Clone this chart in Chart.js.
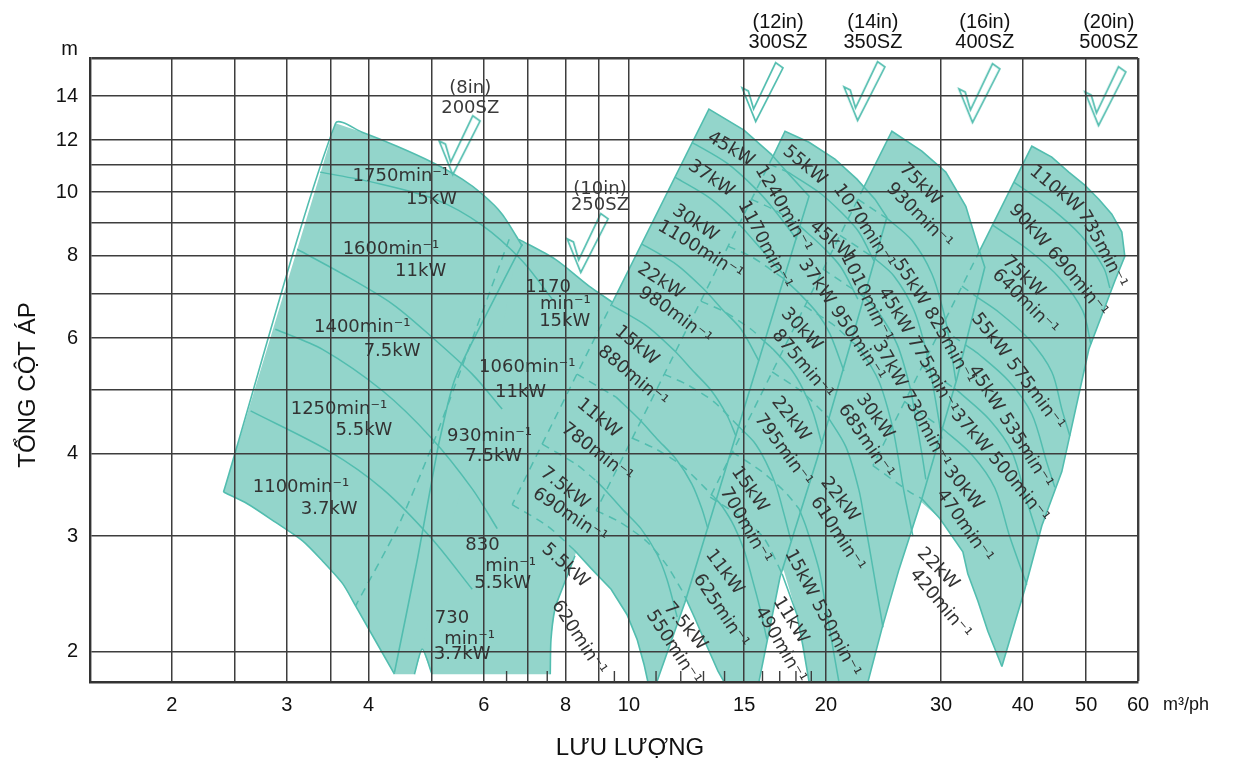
<!DOCTYPE html>
<html lang="vi">
<head>
<meta charset="utf-8">
<title>Biểu đồ chọn bơm SZ</title>
<script src="https://cdn.jsdelivr.net/npm/chart.js@4.4.1/dist/chart.umd.min.js"></script>
<style>
  html, body { margin: 0; padding: 0; background: #ffffff; }
  #box { width: 1234px; height: 764px; }
</style>
</head>
<body>
<div id="box"><canvas id="pumpChart" width="1234" height="764"></canvas></div>
<script>
// ---- axes (flow m3/ph, total head m) ----
const flowGrid   = [2, 2.5, 3, 3.5, 4, 5, 6, 7, 8, 9, 10, 15, 20, 30, 40, 50, 60];
const flowLabels = [2, 3, 4, 6, 8, 10, 15, 20, 30, 40, 50, 60];
const flowMinor  = [6.5, 7.5, 9.5, 11, 12, 13, 14, 16, 17, 18, 19];
const headGrid   = [2, 3, 4, 5, 6, 7, 8, 9, 10, 11, 12, 14, 16];
const headLabels = [2, 3, 4, 6, 8, 10, 12, 14];

// ---- operating areas [flow, head] ----
const sz200Area = [[3.56,12.73],[3.91,12.34],[4.42,11.75],[5.0,11.11],[5.56,10.47],[5.96,9.94],[6.40,9.26],[6.87,8.28],[7.50,7.12],[7.90,6.19],[7.37,4.52],[6.40,3.19],[5.37,2.41],[4.83,2.02],[4.70,1.85],[4.38,1.85],[3.82,2.35],[3.65,2.54],[3.40,2.75],[3.17,2.95],[2.88,3.15],[2.61,3.36],[2.40,3.50]];
const sz250Area = [[6.79,8.48],[7.71,7.91],[8.69,7.20],[9.42,6.81],[10.11,6.19],[9.59,4.85],[8.94,3.66],[8.27,2.80],[7.90,2.49],[7.71,2.33],[7.60,2.09],[7.58,1.85],[5.0,1.85],[4.83,2.02],[5.18,2.77],[5.76,4.07],[6.40,6.19]];
const sz300Area = [[13.25,13.38],[14.99,12.43],[16.49,11.43],[17.56,10.65],[18.85,9.86],[15.15,4.85],[12.18,2.38],[11.03,1.80],[10.69,1.80],[10.55,1.91],[10.29,2.09],[9.93,2.28],[9.39,2.49],[8.78,2.67],[8.24,2.86],[7.50,3.11],[6.63,3.35]];
const sz350Area = [[17.32,12.38],[18.85,11.91],[20.65,11.23],[22.31,10.47],[23.77,9.76],[24.79,9.16],[21.92,5.98],[19.39,3.93],[17.02,2.60],[15.80,1.80],[13.98,1.80],[13.68,1.87],[13.16,2.04],[12.61,2.25],[12.05,2.48],[11.39,2.72],[10.62,2.95],[9.69,3.15],[8.91,3.28]];
const sz400Area = [[25.23,12.38],[28.04,11.55],[30.50,10.73],[32.73,9.52],[34.27,8.19],[34.99,7.69],[31.71,5.20],[28.04,3.42],[25.87,2.67],[24.36,2.17],[23.19,1.80],[18.85,1.80],[18.45,2.04],[18.06,2.28],[17.26,2.65],[16.08,2.98],[14.79,3.21],[13.31,3.44]];
const sz500Area = [[41.29,11.75],[44.30,11.31],[47.03,10.73],[49.75,10.25],[52.27,9.76],[54.72,9.26],[56.68,8.70],[57.28,7.99],[55.30,7.33],[50.47,5.77],[45.89,3.76],[42.77,3.11],[40.28,2.49],[37.16,1.90],[35.37,2.15],[34.15,2.39],[32.96,2.63],[32.39,2.84],[29.87,3.19],[26.88,3.50],[23.60,3.84]];

// ---- visible outlines (solid) ----
const sz200Rim = [
  [[2.40,3.50],[3.56,12.73],[3.91,12.34],[4.42,11.75],[5.0,11.11],[5.56,10.47],[5.96,9.94],[6.40,9.26],[6.87,8.28]],
  [[2.40,3.50],[2.61,3.36],[2.88,3.15],[3.17,2.95],[3.40,2.75],[3.65,2.54],[3.82,2.35],[4.38,1.85]],
  [[4.70,1.85],[4.83,2.02],[5.0,1.85]]
];
const sz250Rim = [
  [[6.79,8.48],[7.71,7.91],[8.69,7.20],[9.42,6.81]],
  [[8.27,2.80],[7.90,2.49],[7.71,2.33],[7.60,2.09],[7.58,1.85]],
  [[6.87,8.34],[6.11,6.64],[5.42,5.20],[5.14,4.22],[5.0,3.66],[4.75,2.77],[4.38,1.86]]
];
const sz300Rim = [
  [[9.49,6.88],[13.25,13.38],[14.99,12.43],[16.49,11.43],[17.56,10.65],[18.85,9.86],[15.15,4.85],[12.18,2.38],[11.03,1.80]],
  [[8.24,2.86],[8.78,2.67],[9.39,2.49],[9.93,2.28],[10.29,2.09],[10.55,1.91],[10.69,1.80]]
];
const sz350Rim = [
  [[16.61,11.35],[17.32,12.38],[18.85,11.91],[20.65,11.23],[22.31,10.47],[23.77,9.76],[24.79,9.16],[21.92,5.98],[19.39,3.93],[17.02,2.60],[15.80,1.80]],
  [[12.22,2.41],[12.61,2.25],[13.16,2.04],[13.68,1.87],[13.98,1.80]]
];
const sz400Rim = [
  [[22.86,10.18],[25.23,12.38],[28.04,11.55],[30.50,10.73],[32.73,9.52],[34.27,8.19],[34.99,7.69],[31.71,5.20],[28.04,3.42],[25.87,2.67],[24.36,2.17],[23.19,1.80]],
  [[17.14,2.63],[18.06,2.28],[18.45,2.04],[18.85,1.80]]
];
const sz500Rim = [
  [[34.39,8.16],[41.29,11.75],[44.30,11.31],[47.03,10.73],[49.75,10.25],[52.27,9.76],[54.72,9.26],[56.68,8.70],[57.28,7.99],[55.30,7.33],[50.47,5.77],[45.89,3.76],[42.77,3.11],[40.28,2.49],[37.16,1.90]],
  [[28.04,3.42],[29.87,3.19],[32.39,2.84],[32.96,2.63],[34.15,2.39],[35.37,2.15],[37.16,1.90]]
];

// ---- lines lying under a neighbouring area (dashed) ----
const sz200Hidden = [
  [[6.56,8.48],[5.76,5.98],[5.0,4.11],[4.42,3.08],[3.82,2.35]]
];
const sz300Hidden = [
  [[9.49,6.88],[6.63,3.35]],
  [[6.63,3.35],[7.50,3.11],[8.24,2.86]],
  [[8.33,5.29],[9.42,4.92],[9.56,4.88]],
  [[7.37,4.14],[8.33,3.85],[8.91,3.64]]
];
const sz350Hidden = [
  [[16.61,11.35],[8.91,3.28]],
  [[8.91,3.28],[9.69,3.15],[10.62,2.95],[11.39,2.72],[12.05,2.48],[12.22,2.41]],
  [[16.38,11.04],[17.50,10.73]],
  [[15.37,9.76],[16.72,9.39],[18.26,8.88]],
  [[14.17,8.28],[15.42,7.97],[17.20,7.40]],
  [[12.88,6.83],[14.03,6.57],[15.37,6.19],[16.08,5.94]],
  [[11.31,5.29],[12.31,5.09],[13.49,4.80],[14.73,4.40]],
  [[10.11,4.23],[10.99,4.07],[12.05,3.84],[13.49,3.44]]
];
const sz400Hidden = [
  [[22.86,10.18],[13.31,3.44]],
  [[13.31,3.44],[14.79,3.21],[16.08,2.98],[17.14,2.63]],
  [[22.38,9.76],[24.36,9.23]],
  [[21.01,8.60],[23.60,7.97]],
  [[19.80,7.64],[21.99,7.12],[22.86,6.93]],
  [[18.58,6.71],[20.65,6.26],[21.92,5.92]],
  [[16.55,5.33],[18.39,4.97],[20.15,4.55]],
  [[14.37,4.03],[15.97,3.76],[17.38,3.49],[18.20,3.30]]
];
const sz500Hidden = [
  [[34.39,8.16],[23.60,3.84]],
  [[23.60,3.84],[26.88,3.50],[28.04,3.42]],
  [[32.28,7.20],[34.02,6.93]],
  [[30.08,6.21],[32.85,5.84]],
  [[28.04,5.44],[31.38,5.04]],
  [[26.41,4.80],[30.08,4.38]]
];

// ---- H-Q curves inside each area (visible parts) ----
const sz200Speeds = [
  [[3.37,10.73],[4.05,10.36],[5.05,9.76],[5.96,8.91],[6.87,7.86],[7.63,6.88]],
  [[3.11,8.19],[3.65,7.51],[4.35,6.76],[5.0,6.02],[5.76,5.29],[6.40,4.68]],
  [[2.88,6.19],[3.40,5.77],[4.20,4.99],[5.0,4.22],[5.76,3.54],[6.29,3.08]],
  [[2.64,4.65],[3.48,4.04],[4.20,3.54],[5.0,2.97],[5.76,2.49]]
];
const sz300Speeds = [
  [[12.48,11.91],[14.12,11.07],[15.53,10.18],[16.55,9.49],[18.06,8.48]],
  [[11.76,10.54],[13.31,9.79],[14.62,9.01],[15.58,8.40],[17.26,7.48]],
  [[10.47,8.34],[11.85,7.75],[13.02,7.12],[13.88,6.64],[14.84,6.19],[15.80,5.54]],
  [[9.42,6.73],[10.65,6.26],[11.72,5.75],[12.48,5.37],[13.35,5.00],[14.12,4.58],[14.57,4.26]],
  [[9.56,4.88],[10.36,4.52],[11.03,4.22],[11.80,3.93],[12.48,3.60],[12.93,3.30],[13.20,3.08]],
  [[8.91,3.64],[9.16,3.54],[9.76,3.30],[10.43,3.08],[11.03,2.82],[11.43,2.58],[11.85,2.26]]
];
const sz350Speeds = [
  [[17.50,10.73],[19.52,10.0],[21.09,9.33],[22.46,8.70],[23.69,7.86]],
  [[18.26,8.88],[19.80,8.25],[21.09,7.69],[22.38,6.88]],
  [[17.20,7.40],[18.26,7.00],[19.45,6.53],[20.29,6.09],[21.31,5.35]],
  [[16.08,5.94],[16.61,5.77],[17.69,5.38],[18.45,5.02],[19.12,4.62],[19.73,4.14]],
  [[14.73,4.40],[15.53,4.17],[16.19,3.89],[16.78,3.58],[17.26,3.24],[17.69,2.95]],
  [[13.49,3.44],[13.88,3.33],[14.47,3.11],[14.99,2.86],[15.42,2.59],[15.86,2.33],[16.25,2.09]]
];
const sz400Speeds = [
  [[24.36,9.23],[24.88,9.10],[27.07,8.45],[29.05,7.51],[30.40,6.46],[31.05,5.77],[31.60,5.16]],
  [[23.60,7.97],[25.41,7.46],[27.26,6.62],[28.53,5.69],[29.15,5.09],[29.77,4.50],[30.08,4.22]],
  [[22.86,6.93],[23.93,6.62],[25.68,5.88],[26.88,5.06],[27.45,4.52],[28.04,4.00],[28.43,3.66]],
  [[21.92,5.92],[22.46,5.81],[24.10,5.16],[25.23,4.44],[25.78,3.97],[26.32,3.51],[27.17,3.00]],
  [[20.15,4.55],[21.46,4.10],[22.46,3.53],[22.94,3.15],[23.44,2.79],[23.93,2.47],[24.45,2.18]],
  [[18.20,3.30],[18.65,3.10],[19.52,2.67],[19.94,2.38],[20.36,2.11],[20.94,1.80]]
];
const sz500Speeds = [
  [[38.76,10.36],[44.14,9.46],[49.06,8.60],[53.19,7.67],[54.34,7.15]],
  [[35.99,8.91],[41.0,8.14],[45.57,7.40],[49.40,6.60],[50.82,5.88]],
  [[34.02,6.93],[36.77,6.57],[40.86,5.98],[44.30,5.33],[45.89,4.68],[47.20,4.26]],
  [[32.85,5.84],[34.27,5.67],[38.09,5.16],[41.29,4.60],[43.53,3.88],[44.77,3.56]],
  [[31.38,5.04],[31.94,4.97],[35.50,4.52],[38.49,4.03],[40.57,3.39],[42.32,2.97]],
  [[30.08,4.38],[33.43,3.99],[36.25,3.55],[38.22,2.99],[40.57,2.53]]
];

// ---- model markers and names ----
const modelMarks = [[5.50,11.79],[8.63,8.37],[15.97,14.20],[22.86,14.25],[34.26,14.15],[53.38,14.0]];
const innerNames = [['(8in)', '200SZ', 5.72, 14.39, 13.42], ['(10in)', '250SZ', 9.03, 10.11, 9.56]];
const outerNames = [['(12in)', '300SZ', 16.90], ['(14in)', '350SZ', 23.60], ['(16in)', '400SZ', 34.99], ['(20in)', '500SZ', 54.13]];

// ---- curve captions [text, flow, head] ----
const sz200Text = [
  ['1750min⁻¹', 3.78, 10.58], ['15kW', 4.56, 9.76],
  ['1600min⁻¹', 3.65, 8.19], ['11kW', 4.39, 7.59],
  ['1400min⁻¹', 3.30, 6.24], ['7.5kW', 3.93, 5.73],
  ['1250min⁻¹', 3.04, 4.68], ['5.5kW', 3.56, 4.34],
  ['1100min⁻¹', 2.66, 3.56], ['3.7kW', 3.15, 3.30]
];
const sz250Text = [
  ['1170', 6.94, 7.17], ['min⁻¹', 7.31, 6.76], ['15kW', 7.29, 6.37],
  ['1060min⁻¹', 5.90, 5.42], ['11kW', 6.24, 4.97],
  ['930min⁻¹', 5.27, 4.26], ['7.5kW', 5.62, 3.97],
  ['830', 5.62, 2.90], ['min⁻¹', 6.03, 2.70], ['5.5kW', 5.80, 2.54],
  ['730', 5.05, 2.25], ['min⁻¹', 5.22, 2.09], ['3.7kW', 5.03, 1.98]
];
const sz300Text = [
  ['45kW', 13.25, 12.17], ['1240min⁻¹', 15.80, 10.92],
  ['37kW', 12.39, 11.02], ['1170min⁻¹', 14.89, 9.66],
  ['30kW', 11.72, 9.43], ['1100min⁻¹', 11.12, 8.91],
  ['22kW', 10.36, 7.69], ['980min⁻¹', 10.40, 7.07],
  ['15kW', 9.59, 6.19], ['880min⁻¹', 9.03, 5.77],
  ['11kW', 8.39, 4.80], ['780min⁻¹', 7.94, 4.40],
  ['7.5kW', 7.37, 3.77], ['690min⁻¹', 7.17, 3.50],
  ['5.5kW', 7.42, 2.89], ['620min⁻¹', 7.72, 2.38]
];
const sz350Text = [
  ['55kW', 17.32, 11.63], ['1070min⁻¹', 20.79, 10.22],
  ['45kW', 19.05, 8.94], ['1010min⁻¹', 21.38, 8.05],
  ['37kW 950min⁻¹', 18.39, 7.86],
  ['30kW', 17.26, 6.60], ['875min⁻¹', 16.72, 6.13],
  ['22kW', 16.72, 4.85], ['795min⁻¹', 15.75, 4.57],
  ['15kW', 14.52, 3.80], ['700min⁻¹', 13.98, 3.54],
  ['11kW', 13.25, 2.84], ['625min⁻¹', 12.70, 2.61],
  ['7.5kW', 11.43, 2.36], ['550min⁻¹', 10.77, 2.30]
];
const sz400Text = [
  ['75kW', 26.14, 10.95], ['930min⁻¹', 24.97, 10.22],
  ['55kW 825min⁻¹', 25.68, 7.86], ['45kW 775min⁻¹', 24.36, 7.12], ['37kW 730min⁻¹', 23.93, 5.92],
  ['30kW', 22.54, 4.90], ['685min⁻¹', 21.16, 4.73],
  ['22kW', 19.87, 3.66], ['610min⁻¹', 19.19, 3.42],
  ['15kW 530min⁻¹', 17.56, 2.85],
  ['11kW', 16.84, 2.41], ['490min⁻¹', 15.80, 2.33]
];
const sz500Text = [
  ['110kW', 41.29, 10.84], ['735min⁻¹', 49.23, 9.33], ['90kW 690min⁻¹', 38.49, 9.49],
  ['75kW', 37.55, 7.91], ['640min⁻¹', 36.25, 7.56],
  ['55kW 575min⁻¹', 33.78, 6.50], ['45kW 535min⁻¹', 33.43, 5.42], ['37kW 500min⁻¹', 31.38, 4.63],
  ['30kW', 30.62, 3.80], ['470min⁻¹', 29.87, 3.51],
  ['22kW', 27.84, 2.85], ['420min⁻¹', 27.17, 2.65]
];

// caption slant (start, end) in degrees
const sz300Tilt = [[31,31],[59,62],[34,34],[62,63],[34,34],[30,34],[33,33],[32,40],[40,40],[40,40],[40,40],[38,38],[38,38],[34,34],[42,42],[57,57]];
const sz350Tilt = [[40,40],[55,58],[40,40],[64,64],[55,58],[47,47],[50,50],[52,52],[54,54],[55,55],[60,60],[53,53],[56,56],[50,50],[57,57]];
const sz400Tilt = [[45,45],[45,45],[56,63],[58,62],[60,62],[54,54],[56,56],[52,52],[57,57],[62,62],[58,58],[60,60]];
const sz500Tilt = [[40,40],[60,64],[47,52],[43,43],[45,45],[52,54],[57,58],[48,52],[50,50],[55,55],[45,45],[50,50]];

// ---- styles ----
const FILL = '#93d5cb';
const LINE = '#52bdaf';
const INK = '#333333';
const GRID = '#3d3d3d';
const CAPTION_FONT = '18px "DejaVu Sans"';
const AXIS_FONT = 'Liberation Sans';

const toXY = a => a.map(([x, y]) => ({ x, y }));
const closeRing = a => toXY(a.concat([a[0]]));

// outlined check glyph used as the marker of each model
function checkGlyph() {
  const c = document.createElement('canvas');
  c.width = 50; c.height = 66;
  const g = c.getContext('2d');
  const shape = [[-19,-4],[-6,28],[20,-23],[13,-28],[-8,16],[-13,-1]];
  g.translate(25, 33);
  g.scale(1.05, 1.05);
  g.beginPath();
  shape.forEach(([px, py], i) => i ? g.lineTo(px, py) : g.moveTo(px, py));
  g.closePath();
  g.strokeStyle = LINE; g.lineWidth = 1.6; g.lineJoin = 'miter';
  g.stroke();
  return c;
}

const datasets = [];
const lineSet = (line, extra) => Object.assign({
  data: toXY(line), borderColor: LINE, borderWidth: 1.5, pointRadius: 0,
  tension: 0.3, fill: false, order: 2, clip: 0
}, extra);

[sz200Area, sz250Area, sz300Area, sz350Area, sz400Area, sz500Area].forEach(area => datasets.push({
  data: closeRing(area), region: true, borderWidth: 0,
  pointRadius: 0, tension: 0, fill: false, order: 3, clip: 0
}));
[].concat(sz200Rim, sz250Rim).forEach(l => datasets.push(lineSet(l, { borderWidth: 1.6, tension: 0.25 })));
[].concat(sz300Rim, sz350Rim, sz400Rim, sz500Rim).forEach(l => datasets.push(lineSet(l, { borderWidth: 1.6, tension: 0 })));
[].concat(sz200Hidden, sz300Hidden, sz350Hidden, sz400Hidden, sz500Hidden)
  .forEach(l => datasets.push(lineSet(l, { borderDash: [8, 6], tension: 0.25 })));
[].concat(sz200Speeds, sz300Speeds, sz350Speeds, sz400Speeds, sz500Speeds)
  .forEach(l => datasets.push(lineSet(l)));
datasets.push({
  data: toXY(modelMarks), showLine: false, pointStyle: checkGlyph(), pointRadius: 20, order: 1, clip: false
});

// fills every operating area before any outline or curve is stroked
const areaFill = {
  id: 'areaFill',
  beforeDatasetsDraw(chart) {
    const { ctx, chartArea: a } = chart;
    ctx.save();
    ctx.beginPath();
    ctx.rect(a.left, a.top, a.right - a.left, a.bottom - a.top);
    ctx.clip();
    ctx.fillStyle = FILL;
    chart.data.datasets.forEach((ds, i) => {
      if (!ds.region) return;
      const pts = chart.getDatasetMeta(i).data;
      ctx.beginPath();
      pts.forEach((p, j) => j ? ctx.lineTo(p.x, p.y) : ctx.moveTo(p.x, p.y));
      ctx.closePath();
      ctx.fill();
    });
    ctx.restore();
  }
};

// text laid along a gently bending baseline
function bendText(ctx, text, x, y, a0, a1) {
  if (a0 === 0 && a1 === 0) { ctx.fillText(text, x, y); return; }
  const total = ctx.measureText(text).width;
  let s = 0, px = x, py = y;
  for (const ch of text) {
    const w = ctx.measureText(ch).width;
    const t = total ? (s + w / 2) / total : 0;
    const ang = (a0 + (a1 - a0) * t) * Math.PI / 180;
    ctx.save();
    ctx.translate(px, py);
    ctx.rotate(ang);
    ctx.fillText(ch, 0, 0);
    ctx.restore();
    px += Math.cos(ang) * w;
    py += Math.sin(ang) * w;
    s += w;
  }
}

const textLayer = {
  id: 'textLayer',
  afterDraw(chart) {
    const { ctx, chartArea: a, scales: { x, y } } = chart;
    ctx.save();
    // minor flow ticks on the bottom frame
    ctx.strokeStyle = GRID; ctx.lineWidth = 1.4;
    flowMinor.forEach(q => {
      const px = x.getPixelForValue(q);
      ctx.beginPath(); ctx.moveTo(px, a.bottom); ctx.lineTo(px, a.bottom - 11); ctx.stroke();
    });

    ctx.fillStyle = INK;
    ctx.textBaseline = 'middle';
    ctx.textAlign = 'left';
    ctx.font = CAPTION_FONT;
    const put = (list, tilt) => list.forEach(([t, q, h], i) => {
      const [a0, a1] = tilt ? tilt[i] : [0, 0];
      bendText(ctx, t, x.getPixelForValue(q), y.getPixelForValue(h), a0, a1);
    });
    put(sz200Text); put(sz250Text);
    put(sz300Text, sz300Tilt); put(sz350Text, sz350Tilt);
    put(sz400Text, sz400Tilt); put(sz500Text, sz500Tilt);

    ctx.textAlign = 'center';
    ctx.fillStyle = '#3a3a3a';
    innerNames.forEach(([size, name, q, h1, h2]) => {
      const px = x.getPixelForValue(q);
      ctx.fillText(size, px, y.getPixelForValue(h1));
      ctx.fillText(name, px, y.getPixelForValue(h2));
    });

    ctx.fillStyle = '#111';
    ctx.font = `20px "${AXIS_FONT}"`;
    outerNames.forEach(([size, name, q]) => {
      const px = x.getPixelForValue(q);
      ctx.fillText(size, px, a.top - 36);
      ctx.fillText(name, px, a.top - 16);
    });
    ctx.textAlign = 'right';
    ctx.fillText('m', a.left - 12, a.top - 9);
    ctx.textAlign = 'left';
    ctx.font = `18px "${AXIS_FONT}"`;
    ctx.fillText('m³/ph', a.right + 25, a.bottom + 23);

    ctx.font = `24px "${AXIS_FONT}"`;
    ctx.textAlign = 'center';
    ctx.fillText('LƯU LƯỢNG', 630, a.bottom + 66);
    ctx.translate(28, 385);
    ctx.rotate(-Math.PI / 2);
    ctx.fillText('TỔNG CỘT ÁP', 0, 0);
    ctx.restore();
  }
};

new Chart(document.getElementById('pumpChart'), {
  type: 'line',
  data: { datasets },
  options: {
    responsive: false,
    animation: false,
    devicePixelRatio: 1,
    events: [],
    layout: { padding: { left: 0, right: 96, top: 58, bottom: 32 } },
    plugins: { legend: { display: false }, tooltip: { enabled: false } },
    scales: {
      x: {
        type: 'logarithmic', min: 1.5, max: 60,
        afterBuildTicks: s => { s.ticks = flowGrid.map(v => ({ value: v })); },
        afterFit: s => { s.height = 50; },
        ticks: {
          autoSkip: false, maxRotation: 0, minRotation: 0, padding: 11, color: '#111',
          font: { family: AXIS_FONT, size: 20 },
          callback: v => flowLabels.includes(v) ? String(v) : ''
        },
        grid: {
          z: 1, drawTicks: false, color: GRID,
          lineWidth: c => (c.tick && c.tick.value === 60) ? 2.4 : 1.5
        },
        border: { z: 1, display: true, color: '#333', width: 2.4 }
      },
      y: {
        type: 'logarithmic', min: 1.8, max: 16,
        afterBuildTicks: s => { s.ticks = headGrid.map(v => ({ value: v })); },
        afterFit: s => { s.width = 90; },
        ticks: {
          autoSkip: false, padding: 12, color: '#111',
          font: { family: AXIS_FONT, size: 20 },
          callback: v => headLabels.includes(v) ? String(v) : ''
        },
        grid: {
          z: 1, drawTicks: false, color: GRID,
          lineWidth: c => (c.tick && c.tick.value === 16) ? 2.4 : 1.5
        },
        border: { z: 1, display: true, color: '#333', width: 2.4 }
      }
    }
  },
  plugins: [areaFill, textLayer]
});
</script>
</body>
</html>
